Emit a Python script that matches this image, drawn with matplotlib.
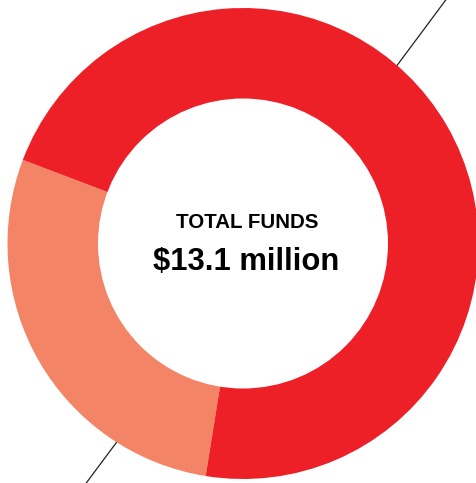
import matplotlib
matplotlib.use("Agg")
import matplotlib.pyplot as plt
from matplotlib.patches import Circle
from matplotlib.lines import Line2D

# Data
categories = ["Other funds", "Main funds"]
values = [3.7, 9.4]  # $ million
colors = ["#F48466", "#ED1F27"]
title_text = "TOTAL FUNDS"
total_text = "$13.1 million"

W, H = 477, 483
fig = plt.figure(figsize=(W / 100, H / 100), dpi=100)
ax = fig.add_axes([0, 0, 1, 1])

R_px = 235.5
cx, cy = 243.0, 243.5  # pixel centre (from top-left)
inner = 145.0 / R_px

wedges, _ = ax.pie(values, colors=colors, startangle=159.2, counterclock=True,
                   radius=1.0, wedgeprops=dict(linewidth=0, antialiased=True),
                   frame=True)
ax.set_xlim(-cx / R_px, (W - cx) / R_px)
ax.set_ylim(-(H - cy) / R_px, cy / R_px)
ax.set_aspect("auto")
ax.axis("off")
for w in wedges:
    w.set_zorder(2)

# white hole
ax.add_patch(Circle((0, 0), inner, facecolor="white", edgecolor="none", zorder=3))

# diagonal decorative line behind the donut (figure coords)
x0, y0 = 445 / W, 1 - 1 / H
x1, y1 = 87 / W, 1 - 482 / H
dx, dy = x1 - x0, y1 - y0
line = Line2D([x0 - 0.05 * dx, x1 + 0.05 * dx], [y0 - 0.05 * dy, y1 + 0.05 * dy],
              transform=fig.transFigure, color="#222222", lw=0.9, zorder=1)
ax.add_line(line)

ax.text(4 / R_px, (cy - 223) / R_px, title_text, ha="center", va="center",
        fontsize=14.8, fontweight="bold", family="Liberation Sans", color="#000000", zorder=4)
ax.text(3 / R_px, (cy - 262) / R_px, total_text, ha="center", va="center",
        fontsize=22.3, fontweight="bold", family="Liberation Sans", color="#000000", zorder=4)

fig.savefig("out.png", dpi=100, facecolor="white")
